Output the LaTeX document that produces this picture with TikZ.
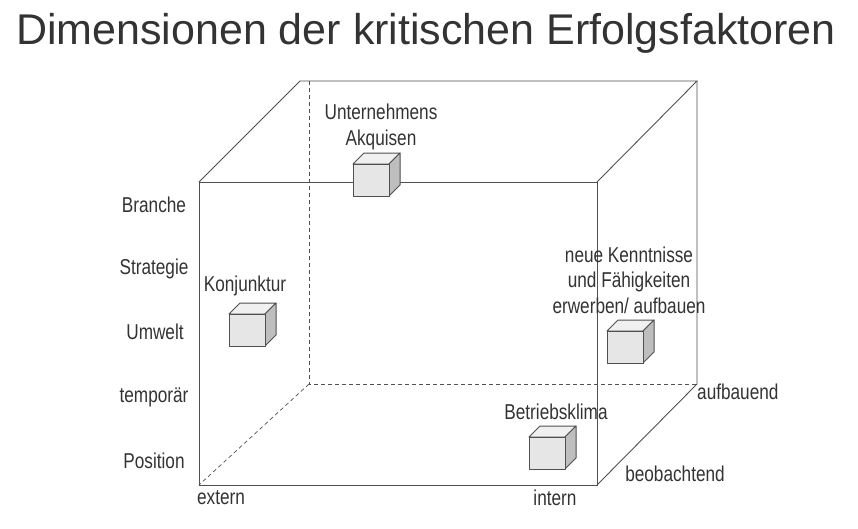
\documentclass[tikz,border=0pt]{standalone}
\usepackage{fontspec}
\setmainfont{Liberation Sans}
\newfontfamily\narrowfont[FakeStretch=0.8]{Liberation Sans}
\definecolor{textgray}{HTML}{333333}
\definecolor{linegray}{HTML}{505050}
\definecolor{frontgray}{HTML}{E6E6E6}
\definecolor{topgray}{HTML}{F0F0F0}
\definecolor{sidegray}{HTML}{BEBEBE}

\tikzset{
  edge/.style={linegray, line width=0.9pt},
  hidden/.style={linegray, line width=0.7pt, dash pattern=on 4pt off 3pt},
  cubeline/.style={linegray, line width=1pt, line join=round},
  label/.style={text=textgray, font=\narrowfont\fontsize{21.5}{25.5}\selectfont, inner sep=0pt, align=center}
}

% small factor cube, #1 = top left corner of the front face
\newcommand{\factorcube}[1]{
  \begin{scope}[shift={#1}]
    \filldraw[cubeline, fill=topgray] (0,0) -- (11,-11) -- (47,-11) -- (36,0) -- cycle;
    \filldraw[cubeline, fill=sidegray] (36,0) -- (47,-11) -- (47,21) -- (36,32) -- cycle;
    \filldraw[cubeline, fill=frontgray] (0,0) rectangle (36,32);
  \end{scope}
}

\begin{document}
\begin{tikzpicture}[x=1pt, y=-1pt]
    \useasboundingbox (0,0) rectangle (858,528);

    % big cube
    \coordinate (ftl) at (199,182);
    \coordinate (ftr) at (597,182);
    \coordinate (fbl) at (199,485);
    \coordinate (fbr) at (597,485);
    \coordinate (btl) at (300,81);
    \coordinate (btr) at (697,81);
    \coordinate (bbr) at (697,384);
    \coordinate (bhl) at (309,81);
    \coordinate (bbl) at (309,384);

    \draw[hidden] (bhl) -- (bbl) -- (bbr);
    \draw[hidden] (bbl) -- (fbl);

    \draw[edge] (ftl) rectangle (fbr);
    \draw[edge] (ftl) -- (btl) -- (btr) -- (ftr);
    \draw[edge] (btr) -- (bbr) -- (fbr);

    \node[text=textgray, font=\fontsize{43}{50}\selectfont, inner sep=0pt] (title) at (426,33) {Dimensionen der kritischen Erfolgsfaktoren};

    \node[label] (branche) at (154,205) {Branche};
    \node[label] (strategie) at (154,269) {Strategie};
    \node[label] (umwelt) at (155,332) {Umwelt};
    \node[label] (temporaer) at (154,397) {temporär};
    \node[label] (position) at (154,461) {Position};

    \node[label] (extern) at (221,498) {extern};
    \node[label] (intern) at (555,498) {intern};
    \node[label] (beobachtend) at (675,474) {beobachtend};
    \node[label, anchor=west] (aufbauend) at (697,392) {aufbauend};

    \factorcube{(353,164)}
    \factorcube{(229,314)}
    \factorcube{(529,437)}
    \factorcube{(607,331)}

    \node[label] (akquisen) at (381,127) {Unternehmens\\Akquisen};
    \node[label] (konjunktur) at (245,286) {Konjunktur};
    \node[label] (betriebsklima) at (556,412) {Betriebsklima};
    \node[label] (kenntnisse) at (629,280) {neue Kenntnisse\\und Fähigkeiten\\erwerben/ aufbauen};
\end{tikzpicture}
\end{document}
